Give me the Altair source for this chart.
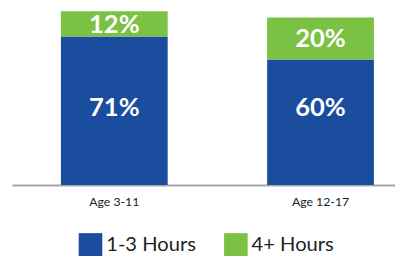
import altair as alt
import pandas as pd

ages = ["Age 3-11", "Age 12-17"]
hours_1_3 = [71, 60]
hours_4_plus = [12, 20]
blue_label_pos = [37.0, 37.0]
groups = ["1-3 Hours", "4+ Hours"]
colors = ["#1a4d9e", "#7bc143"]

rows = []
for a, v1, v2, lp in zip(ages, hours_1_3, hours_4_plus, blue_label_pos):
    rows.append({"age": a, "group": groups[0], "start": 0, "end": v1,
                 "label": f"{v1}%", "lpos": lp})
    rows.append({"age": a, "group": groups[1], "start": v1, "end": v1 + v2,
                 "label": f"{v2}%", "lpos": v1 + v2 / 2})
df = pd.DataFrame(rows)

x = alt.X("age:N", sort=ages, title=None,
          scale=alt.Scale(paddingInner=0.4822, paddingOuter=0.1699, align=0.699),
          axis=alt.Axis(labelAngle=0, ticks=False, domainColor="#a6a6a6", domainWidth=2,
                        labelFontSize=12.5, labelFont="Lato", labelColor="#222222",
                        labelPadding=11))
yscale = alt.Scale(domain=[0, 83.5], nice=False, zero=True)

bars = alt.Chart(df).mark_bar().encode(
    x=x,
    y=alt.Y("start:Q", scale=yscale, axis=None),
    y2="end:Q",
    color=alt.Color("group:N", sort=groups,
                    scale=alt.Scale(domain=groups, range=colors),
                    legend=alt.Legend(title=None, orient="none", legendX=68, legendY=227,
                                      direction="horizontal", symbolType="square",
                                      symbolSize=576, symbolStrokeWidth=0,
                                      labelFontSize=20.5, labelFont="Lato",
                                      labelColor="#222222", columnPadding=28,
                                      padding=0, labelOffset=4)),
)

labels = alt.Chart(df).mark_text(color="white", font="Lato", fontWeight="bold",
                                 fontSize=26, baseline="middle", dy=1).encode(
    x=alt.X("age:N", sort=ages),
    y=alt.Y("lpos:Q", scale=yscale),
    text="label:N",
)

chart = (bars + labels).properties(
    width=390, height=178,
    autosize=alt.AutoSizeParams(type="none"),
    padding={"left": 4, "top": 0, "right": 0, "bottom": 70},
).configure_view(stroke=None)

chart.save("out.html", embed_options={"renderer": "svg", "actions": False})
